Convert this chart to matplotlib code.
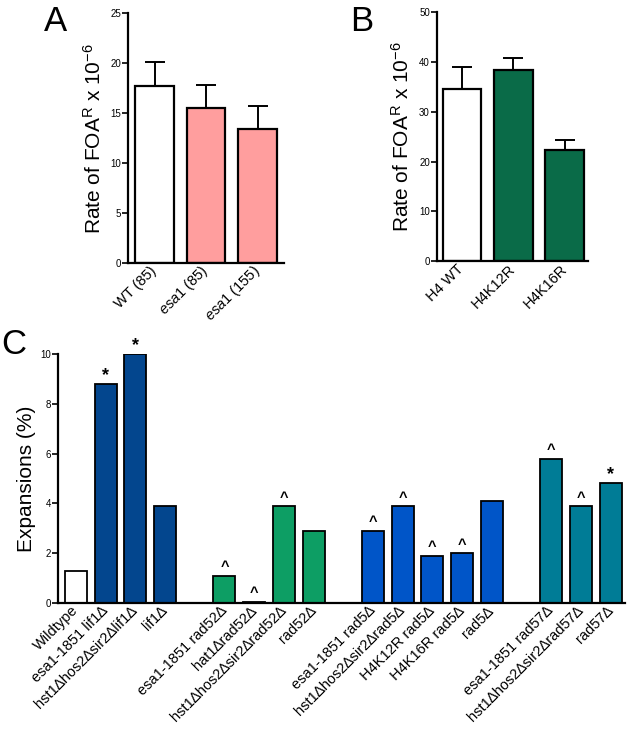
import numpy as np
import matplotlib
matplotlib.use('Agg')
import matplotlib.pyplot as plt

plt.rcParams['font.family'] = ['Liberation Sans', 'DejaVu Sans']
plt.rcParams['mathtext.fontset'] = 'custom'
plt.rcParams['mathtext.rm'] = 'Liberation Sans'
plt.rcParams['mathtext.it'] = 'Liberation Sans:italic'

# panel A
a_labels = [r'WT (85)', r'$\mathit{esa1}$ (85)', r'$\mathit{esa1}$ (155)']
a_values = [17.7, 15.5, 13.4]
a_err = [2.4, 2.3, 2.3]
a_colors = ['white', '#FF9E9E', '#FF9E9E']

# panel B
b_labels = ['H4 WT', 'H4K12R', 'H4K16R']
b_values = [34.6, 38.3, 22.3]
b_err = [4.5, 2.5, 2.0]
b_colors = ['white', '#0A6B48', '#0A6B48']

# panel C
c_pos = [0, 1, 2, 3, 5, 6, 7, 8, 10, 11, 12, 13, 14, 16, 17, 18]
c_labels = ['Wildtype', 'esa1-1851 lif1∆', 'hst1∆hos2∆sir2∆lif1∆', 'lif1∆',
            'esa1-1851 rad52∆', 'hat1∆rad52∆', 'hst1∆hos2∆sir2∆rad52∆', 'rad52∆',
            'esa1-1851 rad5∆', 'hst1∆hos2∆sir2∆rad5∆', 'H4K12R rad5∆', 'H4K16R rad5∆', 'rad5∆',
            'esa1-1851 rad57∆', 'hst1∆hos2∆sir2∆rad57∆', 'rad57∆']
c_values = [1.3, 8.8, 10.0, 3.9, 1.1, 0.05, 3.9, 2.9,
            2.9, 3.9, 1.9, 2.0, 4.1, 5.8, 3.9, 4.8]
c_marks = ['', '*', '*', '', '^', '^', '^', '', '^', '^', '^', '^', '', '^', '^', '*']
c_colors = ['white'] + ['#03468E'] * 3 + ['#0D9E64'] * 4 + ['#0055C8'] * 5 + ['#007C96'] * 3

fig = plt.figure(figsize=(6.35, 7.37), dpi=100)


def style(ax):
    ax.spines['top'].set_visible(False)
    ax.spines['right'].set_visible(False)
    ax.spines['left'].set_linewidth(1.6)
    ax.spines['bottom'].set_linewidth(1.6)
    ax.tick_params(axis='y', length=4, width=1.2, labelsize=7, pad=1)
    ax.tick_params(axis='x', length=0, labelsize=10.5, pad=4)


def rate_panel(rect, labels, values, err, colors, ymax, step, letter, lab_x):
    ax = fig.add_axes(rect)
    x = np.arange(len(values))
    ax.errorbar(x, values, yerr=[np.zeros(len(err)), err], fmt='none', ecolor='black',
                elinewidth=1.4, capsize=7, capthick=1.4, zorder=1)
    ax.bar(x, values, width=0.75, color=colors, edgecolor='black', linewidth=1.6, zorder=2)
    ax.set_ylim(0, ymax)
    ax.set_yticks(np.arange(0, ymax + 1, step))
    ax.set_xticks(x)
    ax.set_xticklabels(labels, rotation=45, ha='right', va='center', rotation_mode='anchor')
    style(ax)
    ax.set_ylabel(r'Rate of FOA$^{\mathrm{R}}$ x 10$^{-6}$', fontsize=15)
    ax.yaxis.set_label_coords(lab_x, 0.5)
    fig.text(letter[0], letter[1], letter[2], fontsize=25, ha='center', va='center')
    return ax


axA = rate_panel([0.2016, 0.643, 0.2457, 0.339], a_labels, a_values, a_err, a_colors,
                 25, 5, (0.088, 0.971, 'A'), -0.15)
axA.set_xlim(-0.515, 2.515)

axB = rate_panel([0.688, 0.6459, 0.2378, 0.3374], b_labels, b_values, b_err, b_colors,
                 50, 10, (0.570, 0.971, 'B'), -0.16)
axB.set_xlim(-0.485, 2.45)

# panel C
axC = fig.add_axes([0.0913, 0.1818, 0.8927, 0.3379])
axC.bar(c_pos, c_values, width=0.74, color=c_colors, edgecolor='black', linewidth=1.3)
for p, v, m in zip(c_pos, c_values, c_marks):
    if m == '*':
        axC.annotate('*', (p, v), xytext=(0, 0), textcoords='offset points',
                     ha='center', va='bottom', fontsize=13, fontweight='bold')
    elif m == '^':
        axC.annotate('^', (p, v), xytext=(0, 1), textcoords='offset points',
                     ha='center', va='bottom', fontsize=10.5, fontweight='bold')
axC.set_xlim(-0.606, 18.48)
axC.set_ylim(0, 10)
axC.set_yticks([0, 2, 4, 6, 8, 10])
axC.set_xticks(c_pos)
axC.set_xticklabels(c_labels, rotation=45, ha='right', va='center', rotation_mode='anchor')
style(axC)
axC.set_ylabel('Expansions (%)', fontsize=15)
axC.yaxis.set_label_coords(-0.038, 0.5)
fig.text(0.022, 0.532, 'C', fontsize=25, ha='center', va='center')

fig.savefig('out.png', dpi=100)
